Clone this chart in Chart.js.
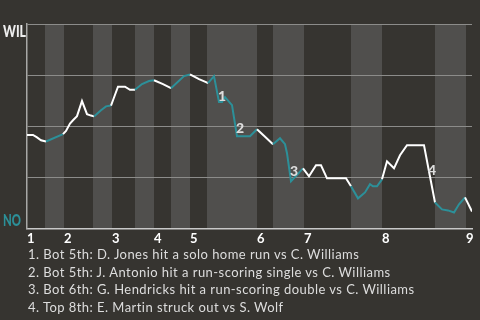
<!DOCTYPE html>
<html>
<head>
<meta charset="utf-8">
<script src="https://cdn.jsdelivr.net/npm/chart.js@4"></script>
<style>
  html, body { margin: 0; padding: 0; background: #363430; width: 480px; height: 320px; overflow: hidden; }
  #wrap { position: relative; width: 480px; height: 320px; }
  canvas { position: absolute; left: 0; top: 0; }
  #notes { position: absolute; left: 28px; top: 246px; font: 13px Lato, sans-serif; letter-spacing: 0.45px; line-height: 17.7px; color: #dddddd; white-space: nowrap; }
</style>
</head>
<body>
<div id="wrap">
  <canvas id="chart" width="480" height="250"></canvas>
  <div id="notes"></div>
</div>
<script>
// play index along the game
const playX = [0, 1.2, 2.0, 2.8, 3.8, 7.2, 7.8, 8.6, 9.2, 10.0, 11.0, 12.0, 12.8, 13.4, 14.8, 15.8, 16.8, 17.2,
  18.2, 19.6, 20.6, 21.6, 23.0, 24.4, 25.4, 27.2, 28.8, 31.4, 32.6, 34.4, 35.8, 36.2, 37.4, 38.4, 39.0, 39.6,
  41.0, 42.0, 44.6, 46.0, 49.2, 50.6, 51.6, 52.0, 52.8, 55.2, 56.4, 57.8, 58.8, 60.0, 63.8, 64.8, 66.2, 67.6,
  68.6, 69.2, 70.0, 71.0, 72.0, 73.4, 74.6, 76.0, 79.4, 80.2, 81.6, 83.0, 84.2, 85.4, 86.4, 87.6, 89.0];
// WIL win probability (%)
const winProb = [45.7, 45.7, 44.5, 43.1, 42.5, 46.1, 47.7, 51.3, 52.9, 54.9, 62.3, 55.9, 55.2, 54.8, 57.8, 59.7, 60.1, 62.7,
  69.3, 69.3, 67.8, 67.8, 70.6, 72.1, 72.5, 70.6, 68.6, 74.5, 75.3, 73.0, 71.6, 71.1, 74.5, 61.8, 61.8, 64.2,
  60.3, 45.1, 45.1, 48.5, 41.2, 44.1, 41.2, 36.8, 23.0, 29.4, 25.5, 30.9, 30.9, 24.5, 24.5, 20.6, 14.7, 17.6,
  21.6, 20.6, 20.6, 24.0, 32.8, 29.4, 35.8, 40.7, 40.7, 30.4, 12.7, 9.3, 8.8, 7.8, 11.8, 15.2, 8.3];

const inningStart = [0, 7.4, 17.0, 25.4, 32.6, 46.0, 55.4, 71.0, 87.8];
const bottomStart = [3.6, 13.2, 21.6, 28.8, 36.0, 49.2, 64.8, 81.6];
const playEnd = 89;

const noteLabels = ['1', '2', '3', '4'];
const noteX = [39.0, 42.6, 53.4, 81.0];
const noteY = [64.7, 49.0, 28.0, 28.4];
const noteText = [
  '1. Bot 5th: D. Jones hit a solo home run vs C. Williams',
  '2. Bot 5th: J. Antonio hit a run-scoring single vs C. Williams',
  '3. Bot 6th: G. Hendricks hit a run-scoring double vs C. Williams',
  '4. Top 8th: E. Martin struck out vs S. Wolf'
];

const TEAL = '#2c9099';
const BAND = '#504f4d';

document.getElementById('notes').innerHTML = noteText.join('<br>');

function bottomEnd(i) {
  return i + 1 < inningStart.length ? inningStart[i + 1] : playEnd;
}

function inBottomHalf(a, b) {
  return bottomStart.some((s, i) => a >= s - 0.05 && b <= bottomEnd(i) + 0.05);
}

const bandsPlugin = {
  id: 'bands',
  beforeDraw(chart) {
    const { ctx, chartArea, scales: { x } } = chart;
    ctx.save();
    ctx.fillStyle = BAND;
    bottomStart.forEach((s, i) => {
      const l = x.getPixelForValue(s);
      const r = x.getPixelForValue(bottomEnd(i));
      ctx.fillRect(l, chartArea.top, r - l, chartArea.bottom - chartArea.top);
    });
    ctx.restore();
  }
};

const labelsPlugin = {
  id: 'sideLabels',
  afterDraw(chart) {
    const { ctx, chartArea, scales: { x, y } } = chart;
    ctx.save();
    ctx.textBaseline = 'middle';
    ctx.textAlign = 'left';
    ctx.font = '900 17px Lato, sans-serif';
    ctx.fillStyle = '#eeeeee';
    ctx.fillText('WIL', 3, chartArea.top + 8, 23);
    ctx.fillStyle = TEAL;
    ctx.fillText('NO', 3, chartArea.bottom - 8, 18);

    ctx.textAlign = 'center';
    ctx.font = '900 14px Lato, sans-serif';
    ctx.fillStyle = '#dddddd';
    noteLabels.forEach((t, i) => {
      ctx.fillText(t, x.getPixelForValue(noteX[i]), y.getPixelForValue(noteY[i]));
    });
    ctx.restore();
  }
};

new Chart(document.getElementById('chart'), {
  type: 'line',
  data: {
    datasets: [{
      data: playX.map((v, i) => ({ x: v, y: winProb[i] })),
      borderColor: '#ffffff',
      borderWidth: 2,
      pointRadius: 0,
      tension: 0,
      segment: {
        borderColor: c => inBottomHalf(c.p0.parsed.x, c.p1.parsed.x) ? TEAL : '#ffffff'
      }
    }]
  },
  options: {
    responsive: false,
    animation: false,
    layout: { padding: { left: 27, top: 24, right: 8, bottom: 0 } },
    plugins: { legend: { display: false }, tooltip: { enabled: false } },
    scales: {
      x: {
        type: 'linear',
        min: 0,
        max: playEnd,
        afterBuildTicks: scale => { scale.ticks = inningStart.map(v => ({ value: v })); },
        grid: { display: false, drawTicks: false },
        border: { color: '#c8c8c8', width: 1.5 },
        ticks: {
          align: 'start',
          padding: 3,
          maxRotation: 0,
          autoSkip: false,
          color: '#ffffff',
          font: { family: 'Lato, sans-serif', size: 13, weight: 'bold' },
          callback: (v, i) => String(i + 1)
        }
      },
      y: {
        min: 0,
        max: 100,
        ticks: { stepSize: 25, display: false },
        grid: { color: '#8c8c8a', drawTicks: false },
        border: { color: '#a8a8a6', width: 1.5 }
      }
    }
  },
  plugins: [bandsPlugin, labelsPlugin]
});
</script>
</body>
</html>
